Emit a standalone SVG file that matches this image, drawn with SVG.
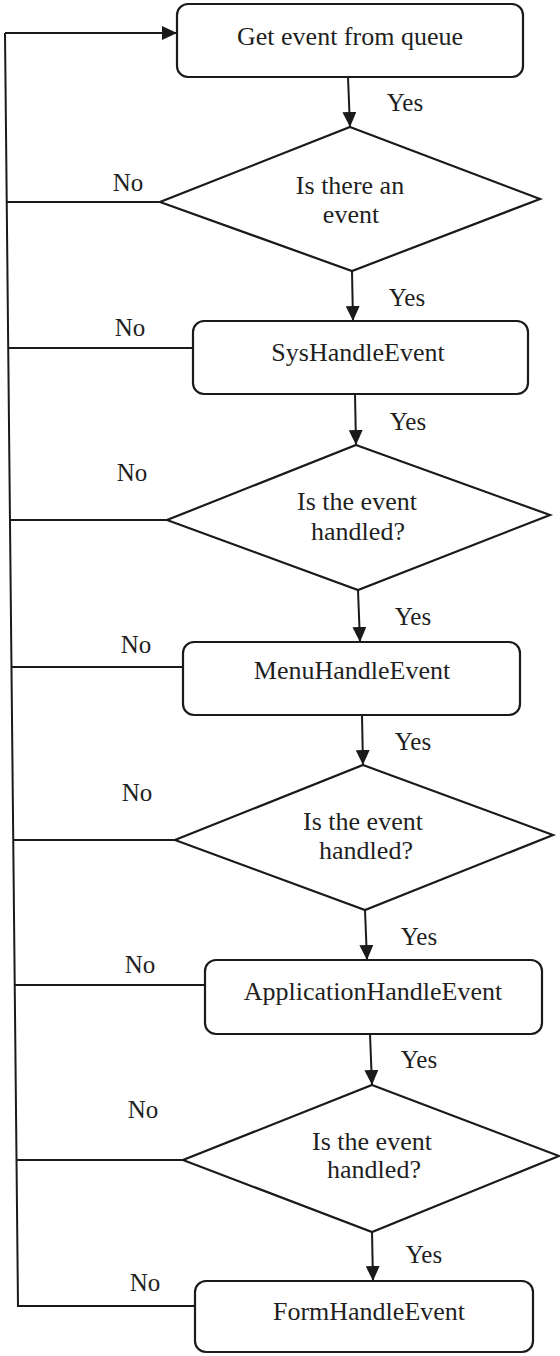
<svg xmlns="http://www.w3.org/2000/svg" width="560" height="1356" viewBox="0 0 560 1356" font-family="'Liberation Serif', 'DejaVu Serif', serif">
  <defs>
    <marker id="arrow" markerUnits="userSpaceOnUse" markerWidth="16" markerHeight="14" refX="15" refY="7" orient="auto">
      <path d="M0,0 L15,7 L0,14 Z" fill="#1a1a1a"/>
    </marker>
    <style>
      .shape { fill: #ffffff; stroke: #1a1a1a; stroke-width: 2.2; }
      .wire { fill: none; stroke: #1a1a1a; stroke-width: 2; }
      .flow { fill: none; stroke: #1a1a1a; stroke-width: 2; marker-end: url(#arrow); }
      text { font-family: 'Liberation Serif', 'Times New Roman', serif; font-size: 26px; fill: #1f1f1f; }
      .mid { text-anchor: middle; }
      .lbl { font-size: 25px; text-anchor: middle; }
    </style>
  </defs>
  <rect width="560" height="1356" fill="#ffffff"/>

  <!-- connectors -->
  <g id="connectors">
    <!-- return trunk: every "No" branch feeds back to the queue -->
    <path class="wire" d="M195,1306 L18,1306 L5,33"/>
    <path class="flow" d="M5,33 L177,33"/>
    <path class="wire" d="M160,202 L6.7,202"/>
    <path class="wire" d="M193,348 L8.2,348"/>
    <path class="wire" d="M167,520 L10,520"/>
    <path class="wire" d="M183,667 L11.5,667"/>
    <path class="wire" d="M175,840 L13.2,840"/>
    <path class="wire" d="M205,985 L14.7,985"/>
    <path class="wire" d="M183,1160 L16.5,1160"/>

    <!-- "Yes" path down the chart -->
    <path class="flow" d="M348,77 L350,127"/>
    <path class="flow" d="M352,271 L353,321"/>
    <path class="flow" d="M355,394 L356,445"/>
    <path class="flow" d="M358,590 L360,642"/>
    <path class="flow" d="M362,715 L363,765"/>
    <path class="flow" d="M365,910 L367,960"/>
    <path class="flow" d="M370,1034 L372,1085"/>
    <path class="flow" d="M372,1232 L373,1281"/>

    <!-- branch labels -->
    <text class="lbl" x="405" y="111">Yes</text>
    <text class="lbl" x="407" y="306">Yes</text>
    <text class="lbl" x="408" y="430">Yes</text>
    <text class="lbl" x="413" y="625">Yes</text>
    <text class="lbl" x="413" y="750">Yes</text>
    <text class="lbl" x="419" y="945">Yes</text>
    <text class="lbl" x="419" y="1068">Yes</text>
    <text class="lbl" x="424" y="1263">Yes</text>

    <text class="lbl" x="128" y="191">No</text>
    <text class="lbl" x="130" y="336">No</text>
    <text class="lbl" x="132" y="481">No</text>
    <text class="lbl" x="136" y="653">No</text>
    <text class="lbl" x="137" y="801">No</text>
    <text class="lbl" x="140" y="973">No</text>
    <text class="lbl" x="143" y="1118">No</text>
    <text class="lbl" x="145" y="1291">No</text>
  </g>

  <!-- nodes -->
  <g id="get-event">
    <rect class="shape" x="177" y="4" width="346" height="73" rx="11"/>
    <text class="mid" x="350" y="45">Get event from queue</text>
  </g>

  <g id="is-there-event">
    <polygon class="shape" points="350,127 540,199 352,271 160,202"/>
    <text class="mid" x="350" y="194">Is there an</text>
    <text class="mid" x="351" y="223">event</text>
  </g>

  <g id="sys-handle">
    <rect class="shape" x="193" y="321" width="335" height="73" rx="11"/>
    <text class="mid" x="358" y="361">SysHandleEvent</text>
  </g>

  <g id="handled-1">
    <polygon class="shape" points="356,445 550,515 358,590 167,520"/>
    <text class="mid" x="357" y="510">Is the event</text>
    <text class="mid" x="358" y="540">handled?</text>
  </g>

  <g id="menu-handle">
    <rect class="shape" x="183" y="642" width="337" height="73" rx="11"/>
    <text class="mid" x="352" y="679">MenuHandleEvent</text>
  </g>

  <g id="handled-2">
    <polygon class="shape" points="363,765 553,835 365,910 175,840"/>
    <text class="mid" x="363" y="830">Is the event</text>
    <text class="mid" x="366" y="859">handled?</text>
  </g>

  <g id="app-handle">
    <rect class="shape" x="205" y="960" width="337" height="74" rx="11"/>
    <text class="mid" x="373" y="1000">ApplicationHandleEvent</text>
  </g>

  <g id="handled-3">
    <polygon class="shape" points="372,1085 559,1156 372,1232 183,1160"/>
    <text class="mid" x="372" y="1150">Is the event</text>
    <text class="mid" x="374" y="1178">handled?</text>
  </g>

  <g id="form-handle">
    <rect class="shape" x="195" y="1281" width="338" height="71" rx="11"/>
    <text class="mid" x="369" y="1320">FormHandleEvent</text>
  </g>
</svg>
